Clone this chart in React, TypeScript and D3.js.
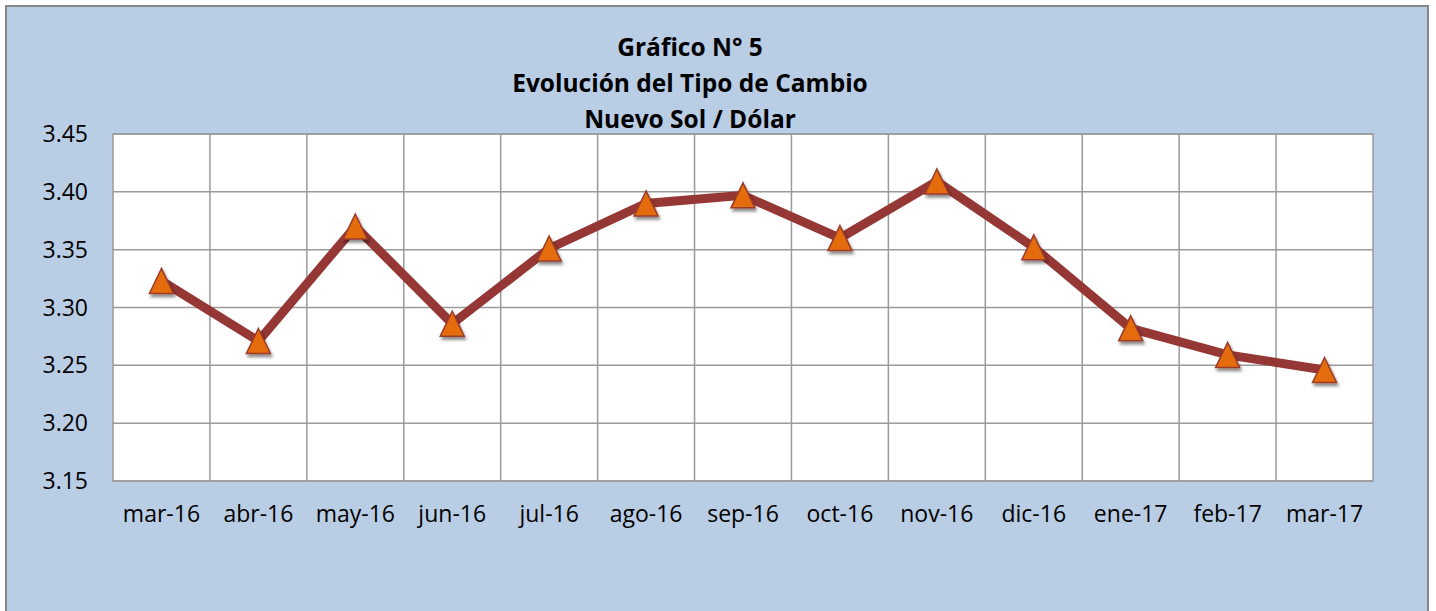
import { useEffect, useRef } from 'react';
import * as d3 from 'd3';

const months = ['mar-16', 'abr-16', 'may-16', 'jun-16', 'jul-16', 'ago-16', 'sep-16', 'oct-16', 'nov-16', 'dic-16', 'ene-17', 'feb-17', 'mar-17'];
const rates = [3.323, 3.271, 3.370, 3.286, 3.351, 3.390, 3.397, 3.360, 3.409, 3.352, 3.282, 3.259, 3.246];
const yTicks = [3.15, 3.20, 3.25, 3.30, 3.35, 3.40, 3.45];
const titleLines = ['Gráfico N° 5', 'Evolución del Tipo de Cambio', 'Nuevo Sol / Dólar'];

const W = 1436;
const H = 611;
const plot = { left: 113, top: 134, right: 1373, bottom: 481 };
const FONT = '"Open Sans", "Noto Sans", sans-serif';

const App = () => {
    const svgRef = useRef<SVGSVGElement>(null);

    useEffect(() => {
        const svg = d3.select(svgRef.current);
        svg.selectAll('*').remove();

        const defs = svg.append('defs');
        const f = defs.append('filter').attr('id', 'mshadow').attr('x', '-50%').attr('y', '-50%').attr('width', '200%').attr('height', '200%');
        f.append('feDropShadow').attr('dx', 1.5).attr('dy', 3).attr('stdDeviation', 1.8).attr('flood-color', '#000').attr('flood-opacity', 0.45);

        // chart background + border
        svg.append('rect')
            .attr('x', 6).attr('y', 6)
            .attr('width', 1422).attr('height', 640)
            .attr('fill', '#B9CDE5')
            .attr('stroke', '#878787')
            .attr('stroke-width', 2);

        const x = d3.scaleBand().domain(months).range([plot.left, plot.right]).padding(0);
        const y = d3.scaleLinear().domain([3.15, 3.45]).range([plot.bottom, plot.top]);

        // plot area
        svg.append('rect')
            .attr('x', plot.left).attr('y', plot.top)
            .attr('width', plot.right - plot.left).attr('height', plot.bottom - plot.top)
            .attr('fill', '#ffffff');

        const grid = svg.append('g').attr('stroke', '#9a9a9a').attr('stroke-width', 1.5);
        grid.selectAll('line.h')
            .data(yTicks)
            .join('line')
            .attr('class', 'h')
            .attr('x1', plot.left).attr('x2', plot.right)
            .attr('y1', d => y(d)).attr('y2', d => y(d));
        grid.selectAll('line.v')
            .data(months.slice(1))
            .join('line')
            .attr('class', 'v')
            .attr('x1', d => x(d)!).attr('x2', d => x(d)!)
            .attr('y1', plot.top).attr('y2', plot.bottom);

        svg.append('rect')
            .attr('x', plot.left).attr('y', plot.top)
            .attr('width', plot.right - plot.left).attr('height', plot.bottom - plot.top)
            .attr('fill', 'none')
            .attr('stroke', '#9a9a9a')
            .attr('stroke-width', 1.5);

        // y axis labels
        svg.append('g')
            .selectAll('text')
            .data(yTicks)
            .join('text')
            .attr('x', 88)
            .attr('y', d => y(d))
            .attr('dy', '0.35em')
            .attr('text-anchor', 'end')
            .style('font-family', FONT)
            .style('font-size', '23px')
            .attr('fill', '#000')
            .text(d => d.toFixed(2));

        // x axis labels
        svg.append('g')
            .selectAll('text')
            .data(months)
            .join('text')
            .attr('x', d => x(d)! + x.bandwidth() / 2)
            .attr('y', 522)
            .attr('text-anchor', 'middle')
            .style('font-family', FONT)
            .style('font-size', '23px')
            .attr('fill', '#000')
            .text(d => d);

        // title
        svg.append('g')
            .selectAll('text')
            .data(titleLines)
            .join('text')
            .attr('x', 690)
            .attr('y', (d, i) => 56 + i * 36)
            .attr('text-anchor', 'middle')
            .style('font-family', FONT)
            .style('font-size', '24.5px')
            .style('font-weight', 'bold')
            .attr('fill', '#000')
            .text(d => d);

        const pts = months.map((m, i) => ({ m, v: rates[i] }));

        const line = d3.line<{ m: string; v: number }>()
            .x(d => x(d.m)! + x.bandwidth() / 2)
            .y(d => y(d.v));

        svg.append('path')
            .datum(pts)
            .attr('d', line)
            .attr('fill', 'none')
            .attr('stroke', '#953735')
            .attr('stroke-width', 9)
            .attr('stroke-linejoin', 'miter');

        const tw = 24;
        const th = 25;
        const tri = `M0,${-th / 2}L${tw / 2},${th / 2}L${-tw / 2},${th / 2}Z`;

        svg.append('g')
            .selectAll('path')
            .data(pts)
            .join('path')
            .attr('transform', d => `translate(${x(d.m)! + x.bandwidth() / 2},${y(d.v)})`)
            .attr('d', tri)
            .attr('fill', '#E46C0A')
            .attr('stroke', '#9B3B2B')
            .attr('stroke-width', 1.5)
            .attr('stroke-linejoin', 'miter')
            .attr('filter', 'url(#mshadow)');
    }, []);

    return (
        <svg
            ref={svgRef}
            width={W}
            height={H}
            viewBox={`0 0 ${W} ${H}`}
            style={{ position: 'absolute', left: 0, top: 0, display: 'block' }}
        />
    );
};

export default App;
